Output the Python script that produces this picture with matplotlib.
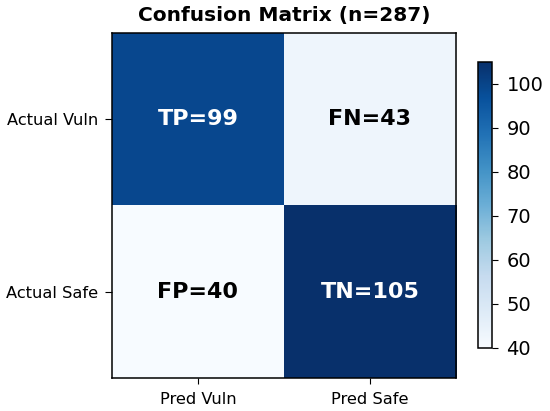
import matplotlib
matplotlib.use("Agg")
import matplotlib.pyplot as plt
import numpy as np

row_labels = ["Actual Vuln", "Actual Safe"]
col_labels = ["Pred Vuln", "Pred Safe"]
cell_names = [["TP", "FN"], ["FP", "TN"]]
values = [[99, 43], [40, 105]]
title = "Confusion Matrix (n=287)"

fig = plt.figure(figsize=(5.5, 4.11), dpi=100)
ax = fig.add_axes([0.2036, 0.0803, 0.6255, 0.8394])
cax = fig.add_axes([0.869, 0.1533, 0.0255, 0.696])

data = np.array(values)
im = ax.imshow(data, cmap="Blues", vmin=40, vmax=105, aspect="auto")
ax.set_xticks(range(len(col_labels)))
ax.set_xticklabels(col_labels, fontsize=11.7)
ax.set_yticks(range(len(row_labels)))
ax.set_yticklabels(row_labels, fontsize=11.7)
ax.tick_params(axis="x", length=4, pad=6)
ax.tick_params(axis="y", length=5, pad=5)
for s in ax.spines.values():
    s.set_linewidth(1.1)
ax.set_title(title, fontsize=14.5, fontweight="bold", pad=9)

for i in range(data.shape[0]):
    for j in range(data.shape[1]):
        v = data[i, j]
        color = "white" if v > 70 else "black"
        ax.text(j, i, f"{cell_names[i][j]}={v}", ha="center", va="center",
                fontsize=16, fontweight="bold", color=color)

cb = fig.colorbar(im, cax=cax)
cb.ax.tick_params(labelsize=14, length=4.5, pad=6)
cb.outline.set_linewidth(1.1)
cb.set_ticks([40, 50, 60, 70, 80, 90, 100])

fig.savefig("out.png", dpi=100)
